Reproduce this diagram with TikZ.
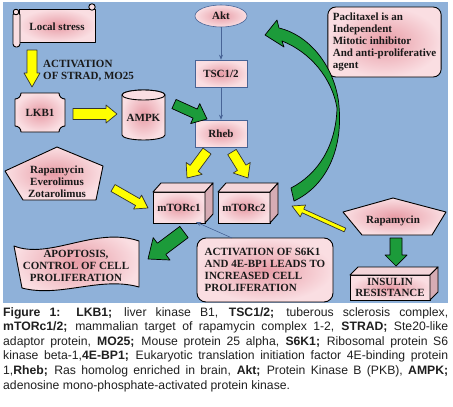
\documentclass[tikz,border=0pt]{standalone}
\usepackage{fontspec}
\setmainfont{Liberation Serif}
\newfontfamily\capfont{Liberation Sans}
\usetikzlibrary{calc,shapes.geometric,arrows.meta}
\definecolor{bgblue}{RGB}{143,177,217}
\definecolor{pinkin}{RGB}{232,156,166}
\definecolor{pinkout}{RGB}{250,222,226}
\definecolor{grn}{RGB}{28,155,58}
\definecolor{ylw}{RGB}{255,255,0}
\definecolor{thinc}{RGB}{72,100,150}
\definecolor{topface}{RGB}{244,214,218}
\definecolor{sideface}{RGB}{214,172,180}
\newcommand{\blkarrow}[6]{%
  \coordinate (bh) at ($(#3)!#6!(#2)$);
  \path[#1] ($(#2)!#4!90:(#3)$) -- ($(bh)!#4!-90:(#2)$) -- ($(bh)!#5!-90:(#2)$) -- (#3)
    -- ($(bh)!#5!90:(#2)$) -- ($(bh)!#4!90:(#2)$) -- ($(#2)!#4!-90:(#3)$) -- cycle;}
\begin{document}
\begin{tikzpicture}[x=1pt,y=-1pt,
  pinkshade/.style={inner color=pinkin, outer color=pinkout},
  outl/.style={draw=black, line width=0.9pt, line join=round},
  lblfont/.style={font=\fontsize{11}{12}\selectfont\bfseries, text=black!90},
  lbl/.style={lblfont, inner sep=0pt, align=center},
  yarrow/.style={fill=ylw, draw=black!80, line width=0.7pt, line join=round},
  garrow/.style={fill=grn, draw=black, line width=0.7pt, line join=round},
  thinarrow/.style={draw=thinc, line width=0.6pt, -{Stealth[length=5pt,width=4pt]}},
  flatbox/.style={rectangle, draw=thinc, line width=0.6pt, pinkshade, minimum width=52pt, minimum height=27pt, lblfont},
  cubefront/.style={rectangle, draw=black, line width=1pt, pinkshade, outer sep=0pt, inner sep=1pt, lblfont, align=center},
]
\useasboundingbox (0,0) rectangle (453,407);
\fill[bgblue] (3,2) rectangle (448,303);

% Local stress scroll
\path[outl, pinkshade] (19,9) rectangle (95,42);
\path[outl, fill=pinkout] (92,7) circle (3.2);
\path[outl, fill=pinkout, rounded corners=3pt] (13,12) rectangle (20,47);
\path[outl, fill=pinkout] (16,12) circle (2.8);
\node[lbl] (local) at (57,27) {Local stress};

% yellow arrow down
\coordinate (ys1) at (32,50);
\coordinate (ye1) at (32,87);
\blkarrow{yarrow}{ys1}{ye1}{5pt}{8pt}{14pt}
\node[lbl, align=left, anchor=west] (strad) at (43,71) {ACTIVATION\\OF STRAD, MO25};

% LKB1
\path[outl, pinkshade] (21,93) -- (59,93) .. controls (59,96.3) and (61.7,99) .. (65,99) -- (65,126)
  .. controls (61.7,126) and (59,128.7) .. (59,132) -- (21,132) .. controls (21,128.7) and (18.3,126) .. (15,126)
  -- (15,99) .. controls (18.3,99) and (21,96.3) .. (21,93) -- cycle;
\node[lbl] (lkb1) at (40,113) {LKB1};

\coordinate (ys2) at (73,114);
\coordinate (ye2) at (117,114);
\blkarrow{yarrow}{ys2}{ye2}{5.5pt}{9pt}{11pt}

% AMPK cylinder
\path[outl, pinkshade] (122,95) -- (122,135) arc[start angle=180, end angle=0, x radius=21.5, y radius=5]
  -- (165,95) arc[start angle=0, end angle=-180, x radius=21.5, y radius=5] -- cycle;
\path[outl, fill=pinkout] (143.5,95) ellipse [x radius=21.5, y radius=5];
\node[lbl] (ampk) at (143.5,118) {AMPK};

% Akt / TSC / Rheb
\node[ellipse, draw=thinc, line width=0.6pt, pinkshade, minimum width=52pt, minimum height=22pt, lblfont, inner sep=0pt] (akt) at (221,16) {Akt};
\node[flatbox] (tsc) at (221,73.5) {TSC1/2};
\node[flatbox] (rheb) at (221,133.5) {Rheb};
\draw[thinarrow] (akt) -- (tsc);
\draw[thinarrow] (tsc) -- (rheb);

\coordinate (gs1) at (174,104);
\coordinate (ge1) at (207,119);
\blkarrow{garrow}{gs1}{ge1}{5pt}{11pt}{13pt}

% mTORc boxes
\node[cubefront, minimum width=52pt, minimum height=31pt] (mtor1) at (179,207.5) {mTORc1};
\path[outl, fill=topface] (mtor1.north west) -- ++(8,-9) -- ($(mtor1.north east)+(8,-9)$) -- (mtor1.north east) -- cycle;
\path[outl, fill=sideface] (mtor1.north east) -- ++(8,-9) -- ($(mtor1.south east)+(8,-9)$) -- (mtor1.south east) -- cycle;
\node[cubefront, minimum width=52pt, minimum height=31pt] (mtor2) at (244,207.5) {mTORc2};
\path[outl, fill=topface] (mtor2.north west) -- ++(8,-9) -- ($(mtor2.north east)+(8,-9)$) -- (mtor2.north east) -- cycle;
\path[outl, fill=sideface] (mtor2.north east) -- ++(8,-9) -- ($(mtor2.south east)+(8,-9)$) -- (mtor2.south east) -- cycle;

\coordinate (ys3) at (207,151);
\coordinate (ye3) at (187,178);
\blkarrow{yarrow}{ys3}{ye3}{5pt}{10pt}{12pt}
\coordinate (ys4) at (232,152);
\coordinate (ye4) at (248,178);
\blkarrow{yarrow}{ys4}{ye4}{5pt}{10pt}{12pt}

% left pentagon
\path[outl, pinkshade] (57,147) -- (103,166) -- (96,200) -- (23,200) -- (5,171) -- cycle;
\node[lbl] (rapa1) at (57,182) {Rapamycin\\Everolimus\\Zotarolimus};
\coordinate (ys5) at (113,188);
\coordinate (ye5) at (148,208);
\blkarrow{yarrow}{ys5}{ye5}{4pt}{8pt}{12pt}

% green to apoptosis
\coordinate (gs2) at (184,232);
\coordinate (ge2) at (148,259);
\blkarrow{garrow}{gs2}{ge2}{7pt}{14pt}{17pt}

% apoptosis banner
\path[outl, pinkshade] (14,246) .. controls (50,260) and (95,226) .. (139,241) -- (139,287)
  .. controls (100,276) and (60,298) .. (22,288) -- cycle;
\node[lbl] (apop) at (76,266) {APOPTOSIS,\\CONTROL OF CELL\\PROLIFERATION};

% activation box
\node[rectangle, outl, pinkshade, rounded corners=9pt, minimum width=136pt, minimum height=64pt, lblfont, align=left, inner xsep=7pt] (act) at (265,270) {ACTIVATION OF S6K1\\AND 4E-BP1 LEADS TO\\INCREASED CELL\\PROLIFERATION};
\coordinate (acttail) at (232,238);
\coordinate (m1tip) at (196,222);
\draw[thinarrow] (acttail) -- (m1tip);

% paclitaxel
\node[rectangle, outl, pinkshade, rounded corners=8pt, minimum width=113pt, minimum height=70pt, lblfont, align=left, inner xsep=5pt] (pacl) at (384.5,42) {Paclitaxel is an\\Independent\\Mitotic inhibitor\\And anti-proliferative\\agent};

% big curved green arrow
\path[garrow] (265,35) -- (277,20) -- (279,28) .. controls (312,36) and (336,70) .. (339,106)
  .. controls (343,150) and (326,186) .. (294,201) -- (291,188) .. controls (318,174) and (336,146) .. (337,108)
  .. controls (332,78) and (310,52) .. (282,41) -- (284,47) -- cycle;

% right rapamycin
\path[outl, pinkshade] (393,198) -- (446,212) -- (432,235) -- (362,235) -- (343,212) -- cycle;
\node[lbl] (rapa2) at (393,221) {Rapamycin};
\coordinate (ys6) at (345,230);
\coordinate (ye6) at (292,206);
\blkarrow{yarrow}{ys6}{ye6}{2pt}{6.5pt}{12pt}
\coordinate (gs3) at (396,238);
\coordinate (ge3) at (396,266);
\blkarrow{garrow}{gs3}{ge3}{6pt}{11pt}{11pt}

% insulin resistance
\node[cubefront, minimum width=80pt, minimum height=25pt, font=\fontsize{11}{11.5}\selectfont\bfseries] (insul) at (390,287.5) {INSULIN\\RESISTANCE};
\path[outl, fill=topface] (insul.north west) -- ++(8,-8) -- ($(insul.north east)+(8,-8)$) -- (insul.north east) -- cycle;
\path[outl, fill=sideface] (insul.north east) -- ++(8,-8) -- ($(insul.south east)+(8,-8)$) -- (insul.south east) -- cycle;

% caption
\node[anchor=north west, inner sep=0pt, text=black!88, font=\capfont\fontsize{12.2}{14.6}\selectfont] (cap) at (3,307) {\vbox{\hsize=445pt \baselineskip=14.6pt
\hbox to 445pt{\textbf{Figure 1:} \textbf{LKB1;} liver kinase B1, \textbf{TSC1/2;} tuberous sclerosis complex,}
\hbox to 445pt{\textbf{mTORc1/2;} mammalian target of rapamycin complex 1-2, \textbf{STRAD;} Ste20-like}
\hbox to 445pt{adaptor protein, \textbf{MO25;} Mouse protein 25 alpha, \textbf{S6K1;} Ribosomal protein S6}
\hbox to 445pt{kinase beta-1,\textbf{4E-BP1;} Eukaryotic translation initiation factor 4E-binding protein}
\hbox to 445pt{1,\textbf{Rheb;} Ras homolog enriched in brain, \textbf{Akt;} Protein Kinase B (PKB), \textbf{AMPK;}}
\hbox{adenosine mono-phosphate-activated protein kinase.}}};
\end{tikzpicture}
\end{document}
